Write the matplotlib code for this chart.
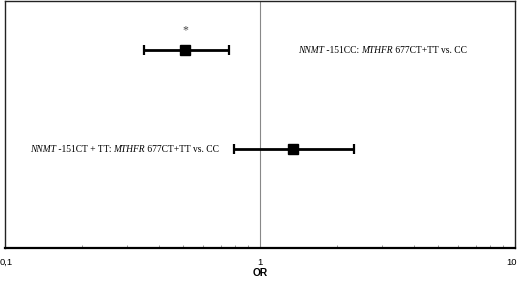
import numpy as np
import matplotlib.pyplot as plt
from matplotlib.transforms import offset_copy
from matplotlib.ticker import FixedLocator, FixedFormatter, LogLocator, NullFormatter

# odds ratios with 95% confidence intervals, top row first
# labels are split into (text, italic) pieces so gene names can be set in italics
labels = [
    [("NNMT", True), (" -151CC: ", False), ("MTHFR", True), (" 677CT+TT vs. CC", False)],
    [("NNMT", True), (" -151CT + TT: ", False), ("MTHFR", True), (" 677CT+TT vs. CC", False)],
]
odds = [0.51, 1.35]
ci_low = [0.35, 0.79]
ci_high = [0.755, 2.34]
rows = [2, 1]
significant = [True, False]
tick_vals = [0.1, 1, 10]
tick_text = ['0,1', '1', '10']

LABEL_FONT = dict(family='Liberation Serif', fontsize=6.85)


def draw_label(ax, x, y, pieces, align='left'):
    """Write a label made of roman/italic pieces, anchored at (x, y)."""
    order = pieces if align == 'left' else pieces[::-1]
    prev = None
    for text, italic in order:
        style = 'italic' if italic else 'normal'
        if prev is None:
            prev = ax.text(x, y, text, ha=align, va='center', style=style, **LABEL_FONT)
        else:
            anchor = (1, 0.5) if align == 'left' else (0, 0.5)
            prev = ax.annotate(text, xy=anchor, xycoords=prev, ha=align, va='center',
                               style=style, **LABEL_FONT)


fig = plt.figure(figsize=(5.2, 2.82), dpi=100)
ax = fig.add_axes([5 / 520, 34 / 282, 510 / 520, 247 / 282])

ax.axvline(1, color='#888888', linewidth=0.8, zorder=1)

odds_a = np.array(odds)
err = np.array([odds_a - np.array(ci_low), np.array(ci_high) - odds_a])
ax.errorbar(odds, rows, xerr=err, fmt='s', color='black', markersize=6.8,
            elinewidth=2, capsize=3.5, capthick=1.6, zorder=3)

for o, r, sig in zip(odds, rows, significant):
    if sig:
        ax.text(o, r + 0.2, '*', ha='center', va='center', fontsize=8.5,
                family='Liberation Serif', color='#444444')

draw_label(ax, 1.41, rows[0], labels[0], align='left')
draw_label(ax, 0.69, rows[1], labels[1], align='right')

ax.set_xscale('log')
ax.set_xlim(0.1, 10)
ax.set_ylim(0, 2.5)
ax.set_yticks([])
ax.xaxis.set_major_locator(FixedLocator(tick_vals))
ax.xaxis.set_major_formatter(FixedFormatter(tick_text))
ax.xaxis.set_minor_locator(LogLocator(base=10, subs=np.arange(2, 10)))
ax.xaxis.set_minor_formatter(NullFormatter())
ax.tick_params(axis='x', which='major', length=0, pad=7, labelsize=6.8,
               labelfontfamily='Liberation Sans')
ax.tick_params(axis='x', which='minor', direction='in', length=2.2, width=0.6,
               color='#888888')
ax.set_xlabel('OR', fontsize=7.4, fontweight='bold', family='Liberation Sans',
              labelpad=1)

# keep the end labels inside the figure
edge_labels = ax.get_xticklabels()
edge_labels[0].set_transform(offset_copy(edge_labels[0].get_transform(), fig, x=1.5, units='dots'))
edge_labels[-1].set_transform(offset_copy(edge_labels[-1].get_transform(), fig, x=-3, units='dots'))

for side in ['top', 'left', 'right']:
    ax.spines[side].set_linewidth(1.0)
    ax.spines[side].set_color('#222222')
ax.spines['bottom'].set_linewidth(1.6)
ax.spines['bottom'].set_color('black')

fig.savefig('out.png', dpi=100)
